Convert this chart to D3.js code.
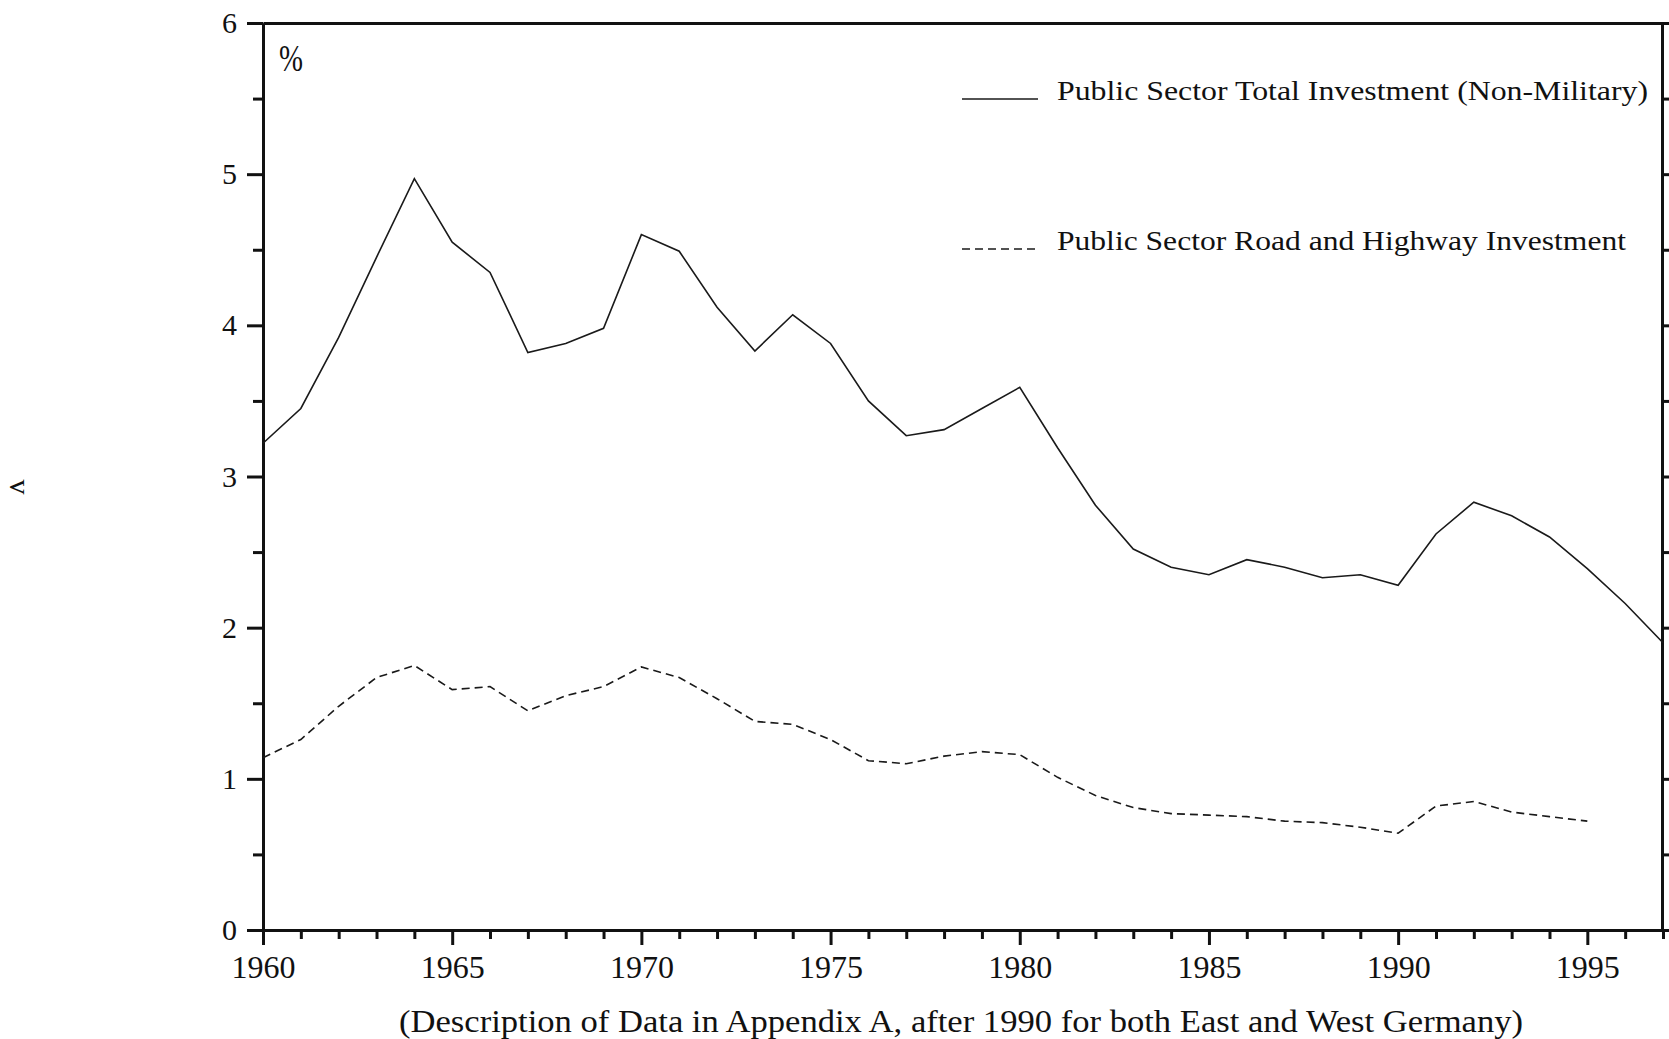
<!DOCTYPE html>
<html>
<head>
<meta charset="utf-8">
<script src="https://cdn.jsdelivr.net/npm/d3@7"></script>
<style>
  html, body { margin: 0; padding: 0; background: #fff; }
  svg { display: block; }
  text { font-family: "Liberation Serif", "Times New Roman", serif; fill: #111; }
</style>
</head>
<body>
<svg id="chart" width="1669" height="1039"></svg>
<script>
// ---- data ----
const years = d3.range(1960, 1998);
const totalInvestment = [
  3.22, 3.45, 3.92, 4.45, 4.97, 4.55, 4.35, 3.82, 3.88, 3.98,
  4.60, 4.49, 4.12, 3.83, 4.07, 3.88, 3.50, 3.27, 3.31, 3.45,
  3.59, 3.19, 2.81, 2.52, 2.40, 2.35, 2.45, 2.40, 2.33, 2.35,
  2.28, 2.62, 2.83, 2.74, 2.60, 2.39, 2.16, 1.90
];
const roadYears = d3.range(1960, 1996);
const roadInvestment = [
  1.14, 1.26, 1.48, 1.67, 1.75, 1.59, 1.61, 1.45, 1.55, 1.61,
  1.74, 1.67, 1.53, 1.38, 1.36, 1.26, 1.12, 1.10, 1.15, 1.18,
  1.16, 1.01, 0.89, 0.81, 0.77, 0.76, 0.75, 0.72, 0.71, 0.68,
  0.64, 0.82, 0.85, 0.78, 0.75, 0.72
];
const xMajorTicks = [1960, 1965, 1970, 1975, 1980, 1985, 1990, 1995];
const yMajorTicks = [0, 1, 2, 3, 4, 5, 6];
const seriesNames = [
  "Public Sector Total Investment (Non-Military)",
  "Public Sector Road and Highway Investment"
];
const caption = "(Description of Data in Appendix A, after 1990 for both East and West Germany)";
const unitLabel = "%";
const sideLabel = "v";

// ---- layout ----
const svg = d3.select("#chart");
const pLeft = 263, pRight = 1663, pTop = 23, pBottom = 930;
const x = d3.scaleLinear().domain([1960, 1997]).range([pLeft, pRight]);
const y = d3.scaleLinear().domain([0, 6]).range([pBottom, pTop]);

const AX = 3;          // axis stroke
const INK = "#111";

function styleAxis(g) {
  g.select(".domain").attr("stroke", INK).attr("stroke-width", AX);
  g.selectAll(".tick line").attr("stroke", INK).attr("stroke-width", AX);
  g.selectAll("text").attr("fill", INK);
}

// left axis: minor
svg.append("g").attr("transform", `translate(${pLeft},0)`)
  .call(d3.axisLeft(y).tickValues(d3.range(0.5, 6, 1)).tickSize(10).tickSizeOuter(0).tickFormat(""))
  .call(styleAxis);
// left axis: major
svg.append("g").attr("transform", `translate(${pLeft},0)`)
  .call(d3.axisLeft(y).tickValues(yMajorTicks).tickSize(16).tickSizeOuter(0).tickPadding(10).tickFormat(d3.format("d")))
  .call(styleAxis)
  .call(g => g.selectAll("text").style("font-size", "30px").style("font-family", "Liberation Serif"));

// right axis (ticks outward)
svg.append("g").attr("transform", `translate(${pRight - 1},0)`)
  .call(d3.axisRight(y).tickValues(d3.range(0, 6.01, 0.5)).tickSize(12).tickSizeOuter(0).tickFormat(""))
  .call(styleAxis);

// top axis (line only)
svg.append("g").attr("transform", `translate(0,${pTop})`)
  .call(d3.axisTop(x).tickValues([]).tickSizeOuter(0))
  .call(styleAxis);

// bottom axis: minor
svg.append("g").attr("transform", `translate(0,${pBottom})`)
  .call(d3.axisBottom(x).tickValues(years.filter(d => d % 5 !== 0)).tickSize(9).tickSizeOuter(0).tickFormat(""))
  .call(styleAxis);
// bottom axis: major
svg.append("g").attr("transform", `translate(0,${pBottom})`)
  .call(d3.axisBottom(x).tickValues(xMajorTicks).tickSize(15).tickSizeOuter(0).tickPadding(10).tickFormat(d3.format("d")))
  .call(styleAxis)
  .call(g => g.selectAll("text").style("font-size", "32px").style("font-family", "Liberation Serif"));

// ---- lines ----
const lineGen = d3.line().x(d => x(d[0])).y(d => y(d[1]));

svg.append("path")
  .datum(years.map((yr, i) => [yr, totalInvestment[i]]))
  .attr("fill", "none").attr("stroke", "#1a1a1a").attr("stroke-width", 1.6)
  .attr("stroke-linejoin", "miter")
  .attr("d", lineGen);

svg.append("path")
  .datum(roadYears.map((yr, i) => [yr, roadInvestment[i]]))
  .attr("fill", "none").attr("stroke", "#1a1a1a").attr("stroke-width", 1.6)
  .attr("stroke-dasharray", "8,5")
  .attr("d", lineGen);

// ---- legend ----
const legend = [
  { name: seriesNames[0], dash: null, baseline: 100, width: 591 },
  { name: seriesNames[1], dash: "8,5", baseline: 250, width: 569 }
];
legend.forEach(l => {
  svg.append("line")
    .attr("x1", 962).attr("x2", 1038).attr("y1", l.baseline - 1).attr("y2", l.baseline - 1)
    .attr("stroke", "#1a1a1a").attr("stroke-width", 1.6)
    .attr("stroke-dasharray", l.dash);
  svg.append("text")
    .attr("x", 1057).attr("y", l.baseline)
    .attr("textLength", l.width).attr("lengthAdjust", "spacingAndGlyphs")
    .style("font-size", "27px")
    .text(l.name);
});

// ---- labels ----
svg.append("text").attr("x", 279).attr("y", 71).attr("textLength", 24).attr("lengthAdjust", "spacingAndGlyphs")
  .style("font-size", "37px").text(unitLabel);

svg.append("text")
  .attr("transform", "translate(19,487) rotate(90)")
  .attr("text-anchor", "middle").attr("dy", "0.3em")
  .style("font-size", "30px")
  .text(sideLabel);

svg.append("text")
  .attr("x", 399).attr("y", 1032)
  .attr("textLength", 1124).attr("lengthAdjust", "spacingAndGlyphs")
  .style("font-size", "32px")
  .text(caption);
</script>
</body>
</html>
